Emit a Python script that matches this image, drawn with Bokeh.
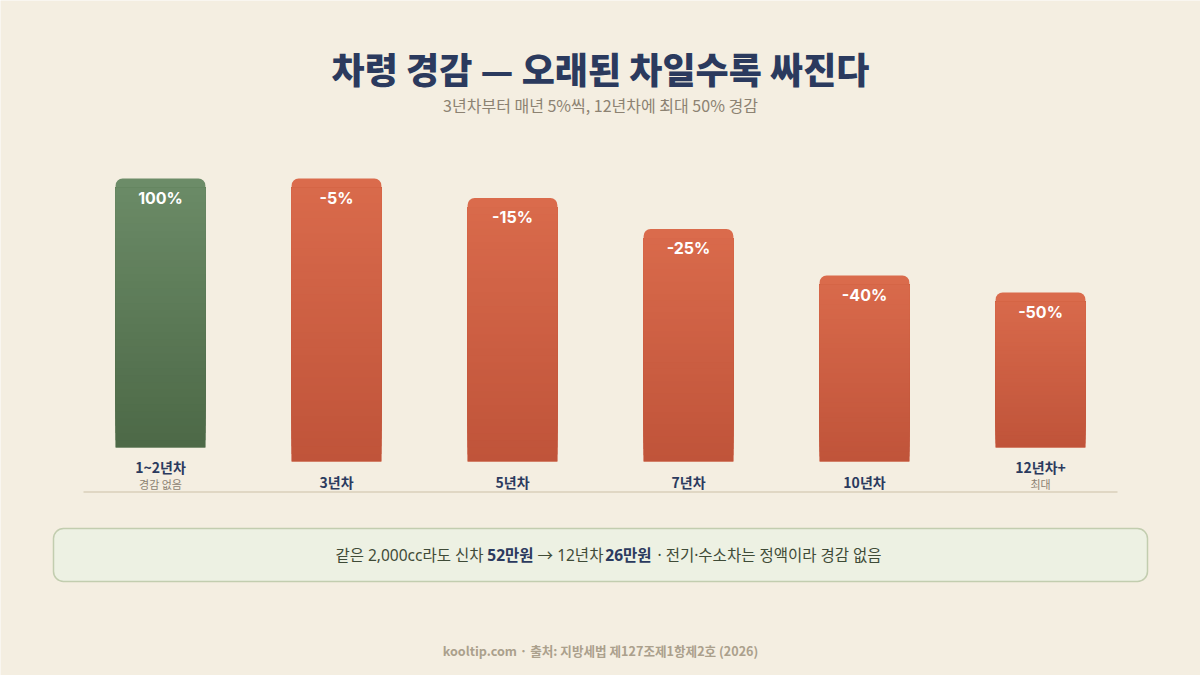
from bokeh.plotting import figure
from bokeh.models import Range1d
from bokeh.core.properties import value
from bokeh.embed import file_html
from bokeh.resources import INLINE

# data
categories = ["1~2년차", "3년차", "5년차", "7년차", "10년차", "12년차+"]
notes = ["경감 없음", "", "", "", "", "최대"]
remain = [100, 95, 85, 75, 60, 50]          # % of tax left
labels = ["100%", "-5%", "-15%", "-25%", "-40%", "-50%"]

title = "차령 경감 — 오래된 차일수록 싸진다"
subtitle = "3년차부터 매년 5%씩, 12년차에 최대 50% 경감"
footer = "kooltip.com · 출처: 지방세법 제127조제1항제2호 (2026)"
note_parts = ["같은 2,000cc라도 신차", "52만원", "→ 12년차", "26만원",
              "· 전기·수소차는 정액이라 경감 없음"]

FONT = value("Noto Sans CJK KR")
MIXED = value("Noto Sans, Noto Sans CJK KR")
NAVY = "#2b3a5e"
BG = "#f4eee1"

# page coordinates: x/y in screen px
W, H = 1200, 675
p = figure(width=W, height=H, x_range=Range1d(0, W),
           y_range=Range1d(H, 0), output_backend="svg",
           toolbar_location=None, min_border=0,
           x_axis_location=None, y_axis_location=None)
p.grid.visible = False
p.outline_line_color = None
p.background_fill_color = BG
p.border_fill_color = BG

# column scale: index -> px, percent of column height -> px
col_w, col0 = 176, 160
base_px, top_px = 488, 178
ppu = (base_px - top_px) / 100.0
p.extra_x_ranges = {"col": Range1d(-col0 / col_w, (W - col0) / col_w)}
p.extra_y_ranges = {"pct": Range1d((base_px - H) / ppu, base_px / ppu)}


def mix(c1, c2, t):
    a = [int(c1[i:i + 2], 16) for i in (1, 3, 5)]
    b = [int(c2[i:i + 2], 16) for i in (1, 3, 5)]
    return "#%02x%02x%02x" % tuple(round(a[k] + (b[k] - a[k]) * t) for k in range(3))


bw = 0.51
lefts, rights, bottoms, tops, tops_col = [], [], [], [], []
sl, sr, sb, st, sc = [], [], [], [], []
for i, v in enumerate(remain):
    two_line = bool(notes[i])
    b = (41 if two_line else 27) / ppu
    t = min(b + v, 100)
    if i == 0:
        ctop, cbot = "#6c8c68", "#4d6947"
    else:
        ctop, cbot = "#da6b4c", "#c0543a"
    lefts.append(i - bw / 2); rights.append(i + bw / 2)
    bottoms.append(b); tops.append(t); tops_col.append(ctop)
    n = 36
    flat = t - 3
    for k in range(n):
        sl.append(i - bw / 2); sr.append(i + bw / 2)
        sb.append(b + (flat - b) * k / n); st.append(flat)
        sc.append(mix(cbot, ctop, k / n * (flat - b) / (t - b)))

p.quad(left=lefts, right=rights, bottom=bottoms, top=tops, fill_color=tops_col,
       line_color=None, border_radius=(7, 7, 0, 0),
       x_range_name="col", y_range_name="pct")
p.quad(left=sl, right=sr, bottom=sb, top=st, fill_color=sc, line_color=None,
       x_range_name="col", y_range_name="pct")

idx = list(range(len(categories)))
p.text(x=idx, y=tops, text=labels, x_range_name="col", y_range_name="pct",
       y_offset=19, text_align="center", text_baseline="middle",
       text_font=value("Inter"), text_font_style="bold", text_font_size="16px",
       text_color="white")

# category labels
cy = [466 if n else 481 for n in notes]
p.text(x=idx, y=cy, text=categories,
       x_range_name="col", text_align="center", text_baseline="middle",
       text_font=FONT, text_font_style="bold", text_font_size="14px",
       text_color=NAVY)
ni = [i for i in idx if notes[i]]
p.text(x=ni, y=[483] * len(ni), text=[notes[i] for i in ni], x_range_name="col",
       text_align="center", text_baseline="middle", text_font=FONT,
       text_font_size="11px", text_color="#8c8272")

p.segment(x0=83, y0=491.5, x1=1117, y1=491.5, line_color="#e0d7c4", line_width=2)

# title block
p.text(x=600, y=67, text=[title], text_align="center", text_baseline="middle",
       text_font=value("Noto Sans CJK KR Black, Noto Sans CJK KR"),
       text_font_style="bold", text_font_size="36px", text_color=NAVY)
p.text(x=600, y=104, text=[subtitle], text_align="center", text_baseline="middle",
       text_font=FONT, text_font_size="16px", text_color="#8c8272")

# note box
p.quad(left=53, right=1147, top=528, bottom=581, fill_color="#edf1e3",
       line_color="#c2cdaf", line_width=1.5, border_radius=10)
olive = "#3f4b37"
p.text(x=483, y=554, text=[note_parts[0]], text_align="right",
       text_baseline="middle", text_font=MIXED, text_font_size="15.5px",
       text_color=olive)
p.text(x=570, y=554, text=[note_parts[2]], text_align="center",
       text_baseline="middle", text_font=MIXED, text_font_size="15.5px",
       text_color=olive)
p.text(x=657, y=554, text=[note_parts[4]], text_align="left",
       text_baseline="middle", text_font=MIXED, text_font_size="15.5px",
       text_color=olive)
p.text(x=[510, 628], y=[554, 554], text=[note_parts[1], note_parts[3]],
       text_align="center", text_baseline="middle", text_font=MIXED,
       text_font_style="bold", text_font_size="15.5px", text_color=NAVY)

p.text(x=600, y=650, text=[footer], text_align="center", text_baseline="middle",
       text_font=FONT, text_font_style="bold", text_font_size="12.6px",
       text_color="#aba08c")

open("out.html", "w").write(file_html(p, INLINE))
